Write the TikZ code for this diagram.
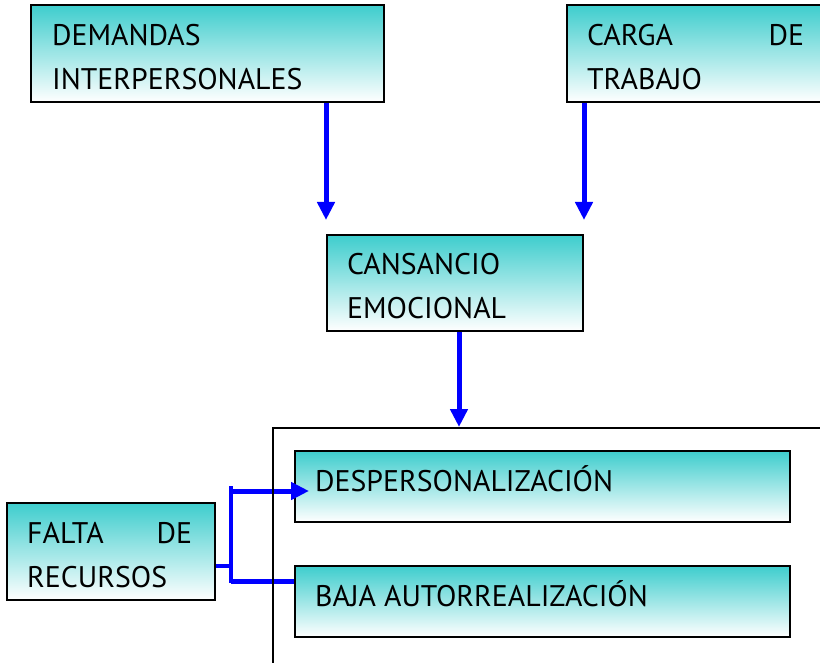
\documentclass[tikz,border=0pt]{standalone}
\usepackage{fontspec}
\setmainfont{PT Sans}
\usetikzlibrary{arrows.meta,calc}
\definecolor{tealtop}{RGB}{62,205,205}
\definecolor{arrblue}{RGB}{0,0,255}
\newcommand\twoline[2]{\vtop{\hbox{#1}\hbox{#2}}}
\begin{document}
\begin{tikzpicture}[x=1pt,y=-1pt,
  box/.style={draw=black, line width=2pt, top color=tealtop, bottom color=white, inner sep=0pt},
  frame/.style={draw=black, line width=2pt, inner sep=0pt},
  lbl/.style={inner sep=0pt, font=\fontsize{29.8}{44}\selectfont, anchor=base west},
  arr/.style={draw=arrblue, line width=5pt, -{Triangle[width=17pt,length=18pt]}},
  conn/.style={draw=arrblue, line width=5pt},
  thinconn/.style={draw=arrblue, line width=3.5pt}]
\useasboundingbox (0,0) rectangle (820,663);
\begin{scope}
\clip (0,0) rectangle (820,663);
% boxes
\node[box, minimum width=353pt, minimum height=97pt] (dem) at (207.5,53.5) {};
\node[box, minimum width=283pt, minimum height=97pt] (car) at (708.5,53.5) {};
\node[box, minimum width=256pt, minimum height=96pt] (cans) at (455,283) {};
\node[box, minimum width=495pt, minimum height=71pt] (desp) at (542.5,486.5) {};
\node[box, minimum width=495pt, minimum height=71pt] (baja) at (542.5,601.5) {};
\node[box, minimum width=208pt, minimum height=97pt] (fal) at (111,551.5) {};
% texts
\node[lbl] (demt) at ($(dem.north west)+(22,42)$) {\twoline{DEMANDAS}{INTERPERSONALES}};
\node[lbl] (cart) at ($(car.north west)+(21,42)$) {\twoline{\hbox to 217pt{CARGA\hfill DE}}{TRABAJO}};
\node[lbl] (canst) at ($(cans.north west)+(21,41)$) {\twoline{CANSANCIO}{EMOCIONAL}};
\node[lbl] (despt) at ($(desp.north west)+(21,41)$) {DESPERSONALIZACIÓN};
\node[lbl] (bajat) at ($(baja.north west)+(21,41)$) {BAJA AUTORREALIZACIÓN};
\node[lbl] (falt) at ($(fal.north west)+(21,41)$) {\twoline{\hbox to 165pt{FALTA\hfill DE}}{RECURSOS}};
% arrows into CANSANCIO
\draw[arr, shorten >=14pt] (dem.south -| cans.west) -- (cans.north west);
\draw[arr, shorten >=14pt] (car.south -| cans.east) -- (cans.north east);
% FALTA connector
\coordinate (j) at (231,566);
\coordinate (jt) at (231,491);
\coordinate (jb) at (231,581);
\draw[thinconn] (fal.east |- j) -- (j);
\draw[thinconn] (231,486) -- (231,583);
\draw[arr] (jt) -- ($(desp.west |- jt)+(15,0)$);
\draw[conn] (jb) -- (baja.west |- jb);
% big frame
\node[frame, minimum width=630pt, minimum height=280pt, anchor=north west] (big) at (272,427) {};
\draw[arr] ([xshift=4pt]cans.south) -- ([xshift=4pt]cans.south |- big.north);
\end{scope}
\end{tikzpicture}
\end{document}
